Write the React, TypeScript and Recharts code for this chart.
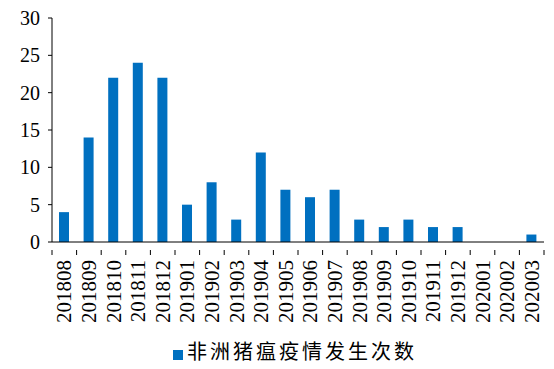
import { BarChart, Bar, XAxis, YAxis, Legend } from 'recharts';

const months = [
  '201808', '201809', '201810', '201811', '201812', '201901', '201902', '201903', '201904', '201905',
  '201906', '201907', '201908', '201909', '201910', '201911', '201912', '202001', '202002', '202003',
];
const outbreaks = [4, 14, 22, 24, 22, 5, 8, 3, 12, 7, 6, 7, 3, 2, 3, 2, 2, 0, 0, 1];
const yTicks = [0, 5, 10, 15, 20, 25, 30];
const seriesName = '非洲猪瘟疫情发生次数';

const data = months.map((month, i) => ({ month, count: outbreaks[i] }));

const SERIF = '"Liberation Serif", "Times New Roman", Times, serif';
const PLOT_LEFT = 52;
const PLOT_RIGHT = 544;
const BAND = (PLOT_RIGHT - PLOT_LEFT) / months.length;

function MonthTick(props: any) {
  const { x, y, payload, index } = props;
  const isLast = index === months.length - 1;
  return (
    <g>
      <line x1={x - BAND / 2} x2={x - BAND / 2} y1={y} y2={y + 5} stroke="#000" />
      {isLast && <line x1={x + BAND / 2} x2={x + BAND / 2} y1={y} y2={y + 5} stroke="#000" />}
      <text
        x={x}
        y={y + 10}
        transform={`rotate(-90, ${x}, ${y + 10})`}
        textAnchor="end"
        dominantBaseline="central"
        fontFamily={SERIF}
        fontSize={21}
        fill="#000"
      >
        {payload.value}
      </text>
    </g>
  );
}

function ValueTick(props: any) {
  const { x, y, payload } = props;
  return (
    <text x={x} y={y} textAnchor="end" dominantBaseline="central" fill="#000" fontFamily={SERIF} fontSize={20}>
      {payload.value}
    </text>
  );
}

export default function App() {
  return (
    <div style={{ position: 'absolute', left: 0, top: 0, width: 554, height: 369, background: '#fff' }}>
      <BarChart width={554} height={369} data={data} margin={{ top: 18, right: 10, left: 8, bottom: 4 }}>
        <XAxis
          dataKey="month"
          interval={0}
          tickLine={false}
          tick={<MonthTick />}
          height={94}
          axisLine={{ stroke: '#000' }}
        />
        <YAxis
          domain={[0, 30]}
          ticks={yTicks}
          width={44}
          tickSize={4}
          tickMargin={8}
          axisLine={{ stroke: '#000' }}
          tickLine={{ stroke: '#000' }}
          tick={<ValueTick />}
        />
        <Legend
          verticalAlign="bottom"
          iconType="square"
          iconSize={10}
          wrapperStyle={{ left: 32 }}
          formatter={(value: string) => (
            <span style={{ color: '#000', fontSize: 20, letterSpacing: 3, fontFamily: '"Noto Sans CJK SC", sans-serif' }}>
              {value}
            </span>
          )}
        />
        <Bar dataKey="count" name={seriesName} fill="#0070C0" barSize={10} isAnimationActive={false} />
      </BarChart>
    </div>
  );
}
